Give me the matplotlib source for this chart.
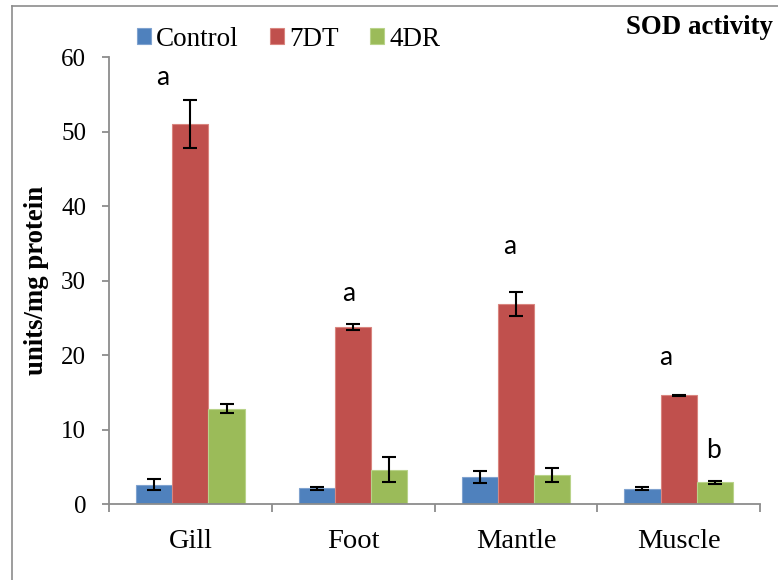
import numpy as np
import matplotlib
matplotlib.use("Agg")
import matplotlib.pyplot as plt
from matplotlib.lines import Line2D

# Data
tissues = ["Gill", "Foot", "Mantle", "Muscle"]
groups = ["Control", "7DT", "4DR"]
control = [2.6, 2.1, 3.65, 2.05]
dt7 = [51.0, 23.8, 26.9, 14.6]
dr4 = [12.8, 4.6, 3.9, 2.9]
control_err = [0.7, 0.2, 0.8, 0.2]
dt7_err = [3.2, 0.4, 1.6, 0.1]
dr4_err = [0.6, 1.7, 1.0, 0.15]

# significance letters: (tissue index, offset, y, text)
letters = [(0, -0.17, 57.2, "a"), (1, -0.03, 28.3, "a"),
           (2, -0.04, 34.5, "a"), (3, -0.08, 19.7, "a"),
           (3, 0.215, 7.2, "b")]

colors = ["#4F81BD", "#C0504D", "#9BBB59"]
edges = ["#7FA2CF", "#D9857F", "#B9D38A"]

plt.rcParams["font.family"] = ["Liberation Serif", "DejaVu Serif"]

fig = plt.figure(figsize=(7.78, 5.8), dpi=100)
ax = fig.add_axes([0.1401, 0.131, 0.9769 - 0.1401, 0.9017 - 0.131])

x = np.arange(len(tissues))
w = 1 / 4.5
series = [control, dt7, dr4]
errs = [control_err, dt7_err, dr4_err]
for i, (vals, err) in enumerate(zip(series, errs)):
    ax.bar(x + (i - 1) * w, vals, w, color=colors[i], edgecolor=edges[i],
           linewidth=0.8, label=groups[i], zorder=2)
    ax.errorbar(x + (i - 1) * w, vals, yerr=err, fmt="none", ecolor="black",
                elinewidth=1.5, capsize=4.7, capthick=1.5, zorder=3)

for ti, off, y, t in letters:
    ax.text(ti + off, y, t, ha="center", va="center", fontsize=19,
            family=["Lato", "DejaVu Sans"], clip_on=False)

ax.set_xlim(-0.5, 3.5)
ax.set_ylim(0, 60)
ax.set_yticks(range(0, 61, 10))
ax.set_xticks(x)
ax.set_xticklabels(tissues, fontsize=20.5)
ax.set_xticks(np.arange(-0.5, 3.6, 1), minor=True)
ax.tick_params(axis="x", which="major", length=0, pad=18)
ax.tick_params(axis="x", which="minor", length=6, color="#8c8c8c", width=1.3)
ax.tick_params(axis="y", length=5, color="#8c8c8c", width=1.3, labelsize=18, pad=11.5)
for s in ["top", "right"]:
    ax.spines[s].set_visible(False)
for s in ["left", "bottom"]:
    ax.spines[s].set_color("#8c8c8c")
    ax.spines[s].set_linewidth(1.3)

ax.set_ylabel("units/mg protein", fontsize=19.3, fontweight="bold")
ax.yaxis.set_label_coords(-0.092, 0.5)

fig.legend(loc="center left", bbox_to_anchor=(137 / 778, (580 - 39) / 580), ncol=3,
           frameon=False, fontsize=19.5, handlelength=0.52, handleheight=0.52,
           handletextpad=0.19, columnspacing=1.15, borderpad=0, borderaxespad=0)
fig.text(773 / 778, (580 - 27) / 580, "SOD activity", ha="right", va="center",
         fontsize=19.4, fontweight="bold")

# chart-area border (left and top edges visible)
fig.add_artist(Line2D([12 / 778, 12 / 778], [0, (580 - 6) / 580], transform=fig.transFigure,
                      color="#8c8c8c", linewidth=1.2))
fig.add_artist(Line2D([12 / 778, 1], [(580 - 6) / 580, (580 - 6) / 580], transform=fig.transFigure,
                      color="#8c8c8c", linewidth=1.2))

fig.savefig("out.png", dpi=100)
